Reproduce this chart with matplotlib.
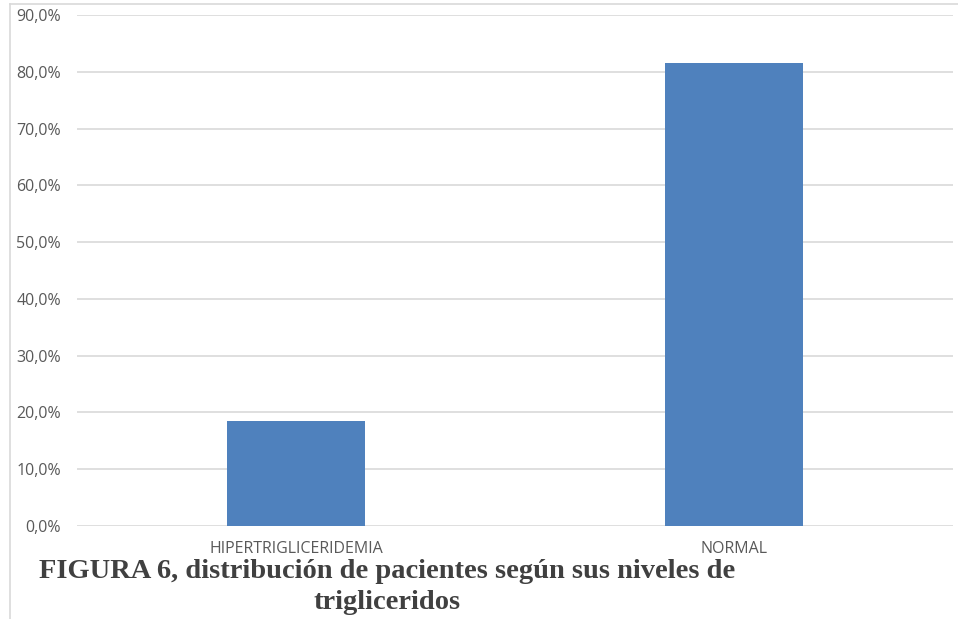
import matplotlib.pyplot as plt
from matplotlib.lines import Line2D
from matplotlib.ticker import FuncFormatter

categories = ['HIPERTRIGLICERIDEMIA', 'NORMAL']
values = [0.185, 0.815]
y_ticks = [0.0, 0.1, 0.2, 0.3, 0.4, 0.5, 0.6, 0.7, 0.8, 0.9]

W, H = 958, 619
fig = plt.figure(figsize=(W / 100, H / 100), dpi=100)
ax = fig.add_axes([77 / W, (H - 526) / H, (953 - 77) / W, (526 - 15) / H])

x = range(len(categories))
ax.bar(x, values, width=0.313, color='#4F81BD', zorder=3)

ax.set_xlim(-0.5, len(categories) - 0.5)
ax.set_ylim(0, 0.9)
ax.set_yticks(y_ticks)
ax.yaxis.set_major_formatter(FuncFormatter(lambda v, p: f'{v * 100:.1f}%'.replace('.', ',')))
ax.set_xticks(list(x))
ax.set_xticklabels(categories)

ax.grid(axis='y', color='#d9d9d9', linewidth=1.2, zorder=0)
for s in ax.spines.values():
    s.set_visible(False)
ax.tick_params(axis='both', length=0)
ax.tick_params(axis='y', labelsize=11.5, labelcolor='#595959', pad=11.5)
ax.tick_params(axis='x', labelsize=11.5, labelcolor='#595959', pad=11)
for lab in ax.get_yticklabels() + ax.get_xticklabels():
    lab.set_family('Open Sans')

# thin grey frame of the chart area (left and top)
fig.add_artist(Line2D([10 / W, 10 / W], [0, (H - 4) / H], color='#d9d9d9', lw=1.2))
fig.add_artist(Line2D([10 / W, 1], [(H - 4) / H, (H - 4) / H], color='#d9d9d9', lw=1.2))

fig.text(387 / W, (H - 587) / H,
         'FIGURA 6, distribución de pacientes según sus niveles de\ntrigliceridos',
         ha='center', va='center', multialignment='center',
         family='Liberation Serif', fontweight='bold', fontsize=20.5,
         color='#404040', linespacing=1.3)

fig.savefig('out.png', dpi=100)
